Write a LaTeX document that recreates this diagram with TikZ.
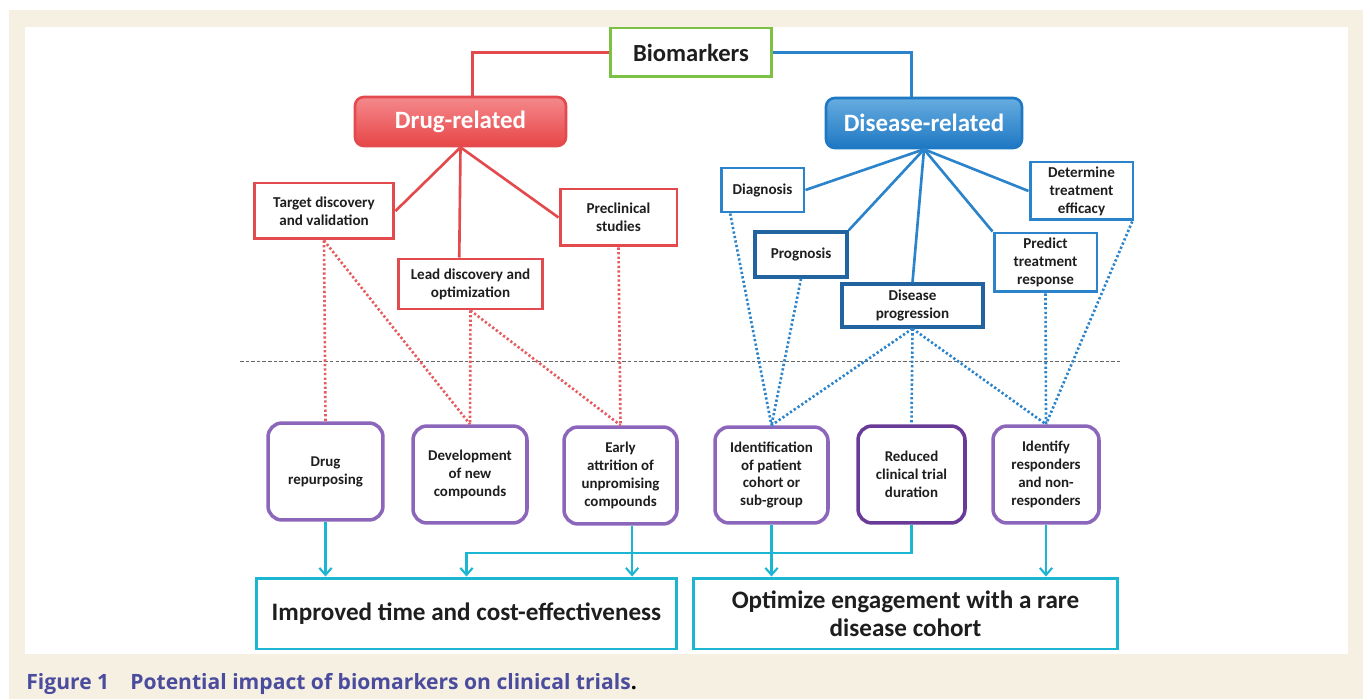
\documentclass[tikz,border=0pt]{standalone}
\usepackage{fontspec}
\setmainfont{Carlito}
\newfontfamily\capfont{Open Sans}
\usetikzlibrary{arrows.meta}

\definecolor{paper}{HTML}{F5F0E2}
\definecolor{ink}{HTML}{1E1E1E}
\definecolor{biogreen}{HTML}{7CC143}
\definecolor{drugred}{HTML}{E34A4D}
\definecolor{drugtop}{HTML}{F4898C}
\definecolor{drugbot}{HTML}{E84647}
\definecolor{disblue}{HTML}{2B84CB}
\definecolor{disdark}{HTML}{22649F}
\definecolor{distop}{HTML}{66ACDF}
\definecolor{disbot}{HTML}{1E78C3}
\definecolor{impurple}{HTML}{8C66BA}
\definecolor{impdark}{HTML}{6A3A98}
\definecolor{outcyan}{HTML}{1CB6D2}
\definecolor{capblue}{HTML}{4B4C9E}

\begin{document}
\begin{tikzpicture}
  [x=0.02cm,y=-0.02cm,
   every node/.style={inner sep=0pt,align=center,text=ink},
   smallfont/.style={font=\fontsize{8.6}{10.2}\selectfont\bfseries},
   biobox/.style={draw=biogreen,line width=1.7pt,fill=white,
     font=\fontsize{14}{16}\selectfont\bfseries},
   headbox/.style={rounded corners=5pt,line width=1.5pt,text=white,
     font=\fontsize{14.2}{16}\selectfont\bfseries},
   redbox/.style={smallfont,draw=drugred,line width=1.7pt,fill=white},
   bluebox/.style={smallfont,draw=disblue,line width=1.7pt,fill=white},
   darkbox/.style={smallfont,draw=disdark,line width=1.9pt,fill=white},
   impactbox/.style={draw=impurple,line width=2pt,rounded corners=8pt,fill=white,
     minimum width=2.26cm,minimum height=1.94cm,
     font=\fontsize{8.5}{10.2}\selectfont\bfseries},
   outbox/.style={draw=outcyan,line width=1.7pt,fill=white,
     minimum width=8.45cm,minimum height=1.42cm,
     font=\fontsize{14.3}{16}\selectfont\bfseries},
   redline/.style={drugred,line width=1.5pt},
   blueline/.style={disblue,line width=1.5pt},
   reddots/.style={drugred!90,line width=1.5pt,dash pattern=on 1.3pt off 1.3pt},
   bluedots/.style={disblue,line width=1.5pt,dash pattern=on 1.3pt off 1.3pt},
   cyanarrow/.style={outcyan,line width=1.2pt,-{Straight Barb[length=4pt,width=7pt]}}]

  % frame
  \fill[paper] (9,10) rectangle (1363,699);
  \fill[white] (25,27) rectangle (1348,654);
  \useasboundingbox (0,0) rectangle (1363,699);

  % top level
  \node[biobox,minimum width=3.24cm,minimum height=0.98cm] (bio) at (691,52.5) {Biomarkers};
  \node[headbox,draw=drugred,top color=drugtop,bottom color=drugbot,
    minimum width=4.22cm,minimum height=0.98cm] (drug) at (460.5,121.5) {Drug-related};
  \node[headbox,draw=disbot,top color=distop,bottom color=disbot,
    minimum width=3.92cm,minimum height=1cm] (dis) at (924,123) {Disease-related};

  % drug-related uses
  \node[redbox,minimum width=2.8cm,minimum height=1.12cm] (tdv) at (324,211) {Target discovery\\and validation};
  \node[redbox,minimum width=2.9cm,minimum height=1cm] (lead) at (470.5,284) {Lead discovery and\\optimization};
  \node[redbox,minimum width=2.34cm,minimum height=1.14cm] (pre) at (618.5,217.5) {Preclinical\\studies};

  % disease-related uses
  \node[bluebox,minimum width=1.66cm,minimum height=0.88cm] (diag) at (762.5,190) {Diagnosis};
  \node[darkbox,minimum width=1.84cm,minimum height=0.9cm] (prog) at (801,254.5) {Prognosis};
  \node[darkbox,minimum width=2.82cm,minimum height=0.86cm] (dprog) at (912.5,305.5) {Disease\\progression};
  \node[bluebox,minimum width=2.06cm,minimum height=1.16cm] (det) at (1081.5,191) {Determine\\treatment\\efficacy};
  \node[bluebox,minimum width=2.06cm,minimum height=1.18cm] (pred) at (1045.5,262.5) {Predict\\treatment\\response};

  % impact on trials
  \node[impactbox,minimum width=2.3cm] (rep) at (325.5,471.5) {Drug\\repurposing};
  \node[impactbox,minimum width=2.28cm] (dev) at (470,474.5) {Development\\of new\\compounds};
  \node[impactbox] (early) at (620.5,475.5) {Early\\attrition of\\unpromising\\compounds};
  \node[impactbox,minimum height=1.92cm] (ident) at (771.5,475) {Identification\\of patient\\cohort or\\sub-group};
  \node[impactbox,draw=impdark,minimum width=2.14cm] (red) at (911.5,474.5) {Reduced\\clinical trial\\duration};
  \node[impactbox,minimum width=2.12cm] (resp) at (1046,474.5) {Identify\\responders\\and non-\\responders};

  % outcomes
  \node[outbox,minimum width=8.42cm] (imp) at (466.5,613.5) {Improved time and cost-effectiveness};
  \node[outbox,minimum width=8.5cm] (opt) at (905.5,613.5) {Optimize engagement with a rare\\disease cohort};

  % tree
  \draw[redline] (bio.west) -| (drug.65);
  \draw[blueline] (bio.east) -| (dis.115);
  \foreach \from/\to in {drug.south/tdv.east,drug.south/lead.113,drug.south/pre.west}
    \draw[redline] (\from) -- (\to);
  \foreach \from/\to in {dis.south/diag.east,dis.south/prog.north east,dis.south/dprog.north,
                         dis.south/pred.north west,dis.south/det.west}
    \draw[blueline] (\from) -- (\to);

  % separator
  \draw[black!60,line width=0.5pt,dash pattern=on 2pt off 1.2pt] (240,361) -- (1120,361);

  % links to impacts
  \foreach \from/\to in {tdv.south/rep.north,tdv.south/dev.north,lead.south/dev.north,
                         lead.south/early.north,pre.south/early.north}
    \draw[reddots] (\from) -- (\to);
  \foreach \from/\to in {diag.216/ident.north,prog.south/ident.north,dprog.south/ident.north,
                         dprog.south/red.north,dprog.south/resp.north,pred.south/resp.north,
                         det.329/resp.north}
    \draw[bluedots] (\from) -- (\to);

  % arrows to outcomes
  \draw[cyanarrow] (rep.south) -- (rep.south |- imp.north);
  \draw[cyanarrow] (early.-77) -- (early.-77 |- imp.north);
  \draw[cyanarrow] (red.south) -- ++(0,28) -| (imp.north);
  \draw[cyanarrow] (ident.south) -- (ident.south |- opt.north);
  \draw[cyanarrow] (resp.south) -- (resp.south |- opt.north);

  % caption
  \node[anchor=west,text=capblue,font=\capfont\fontsize{12}{14}\selectfont\bfseries] (cap) at (26,684)
    {Figure 1\hspace{1em}Potential impact of biomarkers on clinical trials\textcolor{black}{.}};
\end{tikzpicture}
\end{document}
